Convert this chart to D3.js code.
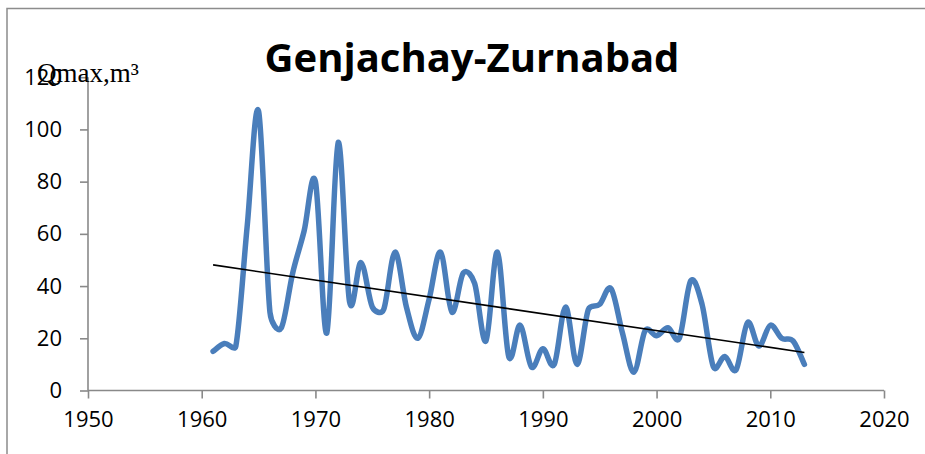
<!DOCTYPE html>
<html>
<head>
<meta charset="utf-8">
<script src="https://cdn.jsdelivr.net/npm/d3@7"></script>
<style>
  html, body { margin: 0; padding: 0; background: #fff; }
  svg { display: block; }
</style>
</head>
<body>
<svg id="chart" width="925" height="454"></svg>
<script>
// Annual maximum discharge, Genjachay river at Zurnabad
const years = [
  1961, 1962, 1963, 1964, 1965, 1966, 1967, 1968, 1969, 1970,
  1971, 1972, 1973, 1974, 1975, 1976, 1977, 1978, 1979, 1980,
  1981, 1982, 1983, 1984, 1985, 1986, 1987, 1988, 1989, 1990,
  1991, 1992, 1993, 1994, 1995, 1996, 1997, 1998, 1999, 2000,
  2001, 2002, 2003, 2004, 2005, 2006, 2007, 2008, 2009, 2010,
  2011, 2012, 2013
];
const qmax = [
  15, 18, 17, 63, 107, 30, 24, 45, 61, 80,
  22, 95, 34, 49, 32, 31, 53, 32, 20, 35,
  53, 30, 45, 41, 19, 53, 13, 25, 9, 16,
  10, 32, 10, 31, 33, 39, 22, 7, 23, 21,
  24, 20, 42, 33, 9, 13, 8, 26, 17, 25,
  20, 19, 10
];
const xTicks = [1950, 1960, 1970, 1980, 1990, 2000, 2010, 2020];
const yTicks = [0, 20, 40, 60, 80, 100, 120];
const titleText = "Genjachay-Zurnabad";
const yLabel = "Qmax,m³";

// Bezier smoothing with 1/6 control arms, each arm clamped to half its segment
function curveSmoothClamped(context) {
  let pts;
  const dist = (a, b) => Math.hypot(a[0] - b[0], a[1] - b[1]);
  return {
    areaStart() {}, areaEnd() {},
    lineStart() { pts = []; },
    point(px, py) { pts.push([+px, +py]); },
    lineEnd() {
      const n = pts.length;
      if (!n) return;
      context.moveTo(pts[0][0], pts[0][1]);
      for (let i = 0; i < n - 1; i++) {
        const p0 = pts[Math.max(i - 1, 0)], p1 = pts[i], p2 = pts[i + 1], p3 = pts[Math.min(i + 2, n - 1)];
        const d12 = dist(p1, p2), d02 = dist(p0, p2), d13 = dist(p1, p3);
        let f1 = 1 / 6, f2 = 1 / 6;
        if (d02 > 0 && d02 / 6 > d12 / 2) f1 = d12 / (2 * d02);
        if (d13 > 0 && d13 / 6 > d12 / 2) f2 = d12 / (2 * d13);
        context.bezierCurveTo(
          p1[0] + (p2[0] - p0[0]) * f1, p1[1] + (p2[1] - p0[1]) * f1,
          p2[0] - (p3[0] - p1[0]) * f2, p2[1] - (p3[1] - p1[1]) * f2,
          p2[0], p2[1]);
      }
    }
  };
}

const svg = d3.select("#chart");
const axisColor = "#898989";
const tickFont = "'Open Sans', 'Liberation Sans', sans-serif";

// outer chart frame
svg.append("rect")
  .attr("x", 7).attr("y", 8.5)
  .attr("width", 940).attr("height", 480)
  .attr("fill", "none").attr("stroke", "#8c8c8c").attr("stroke-width", 1.5);

const x = d3.scaleLinear().domain([1950, 2020]).range([88, 884]);
const y = d3.scaleLinear().domain([0, 120]).range([390.5, 77.2]);

// y axis
const yAxis = svg.append("g")
  .attr("transform", `translate(${x(1950)},0)`)
  .call(d3.axisLeft(y).tickValues(yTicks).tickSize(8).tickPadding(18).tickFormat(d3.format("d")));
// x axis
const xAxis = svg.append("g")
  .attr("transform", `translate(0,${y(0)})`)
  .call(d3.axisBottom(x).tickValues(xTicks).tickSize(8).tickPadding(13).tickFormat(d3.format("d")));

[yAxis, xAxis].forEach(g => {
  g.select(".domain").attr("stroke", axisColor).attr("stroke-width", 1.6);
  g.selectAll(".tick line").attr("stroke", axisColor).attr("stroke-width", 1.6);
  g.selectAll(".tick text")
    .attr("fill", "#000")
    .style("font-family", tickFont)
    .style("font-size", "22px");
});
xAxis.select(".domain").attr("d", `M${x(1950)},0H${x(2020)}`);
yAxis.select(".domain").attr("d", `M0,${y(120)}V${y(0)}`);

// smoothed discharge series
const pts = years.map((yr, i) => [yr, qmax[i]]);
svg.append("path")
  .datum(pts)
  .attr("fill", "none")
  .attr("stroke", "#4a7ebb")
  .attr("stroke-width", 5.5)
  .attr("stroke-linejoin", "round")
  .attr("stroke-linecap", "round")
  .attr("d", d3.line().x(d => x(d[0])).y(d => y(d[1])).curve(curveSmoothClamped));

// least-squares linear trend
const mx = d3.mean(years), my = d3.mean(qmax);
const slope = d3.sum(years, (yr, i) => (yr - mx) * (qmax[i] - my)) /
              d3.sum(years, yr => (yr - mx) * (yr - mx));
const icpt = my - slope * mx;
const x0 = years[0], x1 = years[years.length - 1];
svg.append("line")
  .attr("x1", x(x0)).attr("y1", y(icpt + slope * x0))
  .attr("x2", x(x1)).attr("y2", y(icpt + slope * x1))
  .attr("stroke", "#000").attr("stroke-width", 1.6);

// title, sized to its box
const title = svg.append("text")
  .attr("x", 472).attr("y", 71.7)
  .attr("text-anchor", "middle")
  .style("font-family", "'Open Sans', 'Liberation Sans', sans-serif")
  .style("font-weight", "bold")
  .style("font-size", "40px")
  .text(titleText);
const tw = title.node().getComputedTextLength();
title.style("font-size", (40 * 415 / tw).toFixed(2) + "px");

// axis quantity label
svg.append("text")
  .attr("x", 37).attr("y", 82)
  .style("font-family", "'Liberation Serif', 'Times New Roman', serif")
  .style("font-size", "27px")
  .attr("fill", "#000")
  .text(yLabel);
</script>
</body>
</html>
